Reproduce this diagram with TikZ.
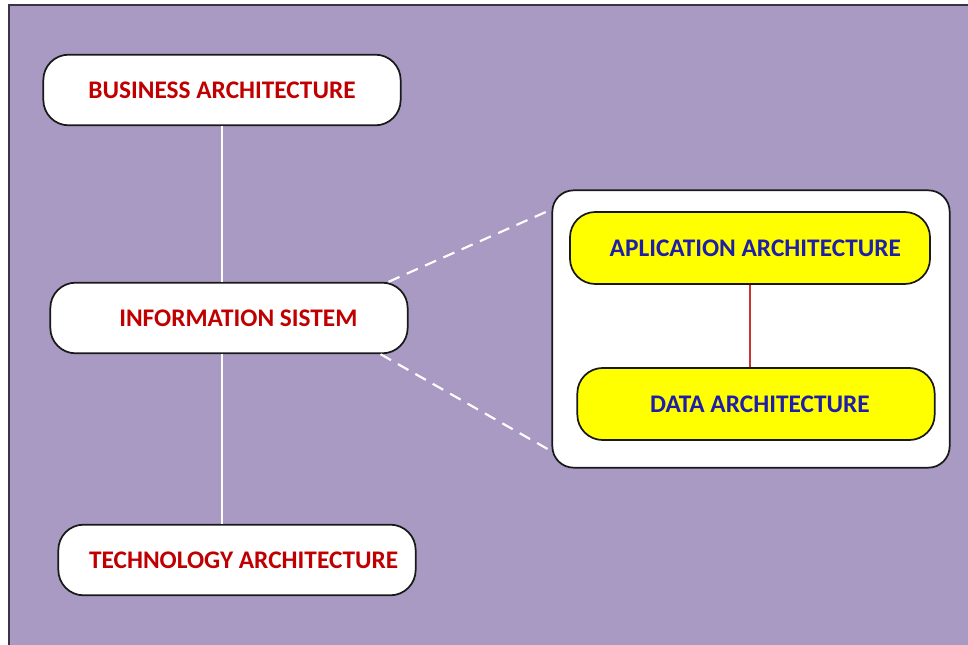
\documentclass[tikz,border=0pt]{standalone}
\usepackage{fontspec}
\setmainfont{Carlito}
\definecolor{bgcol}{RGB}{168,154,194}
\definecolor{framecol}{RGB}{60,52,70}
\definecolor{redtxt}{RGB}{192,0,0}
\definecolor{bluetxt}{RGB}{30,30,170}
\definecolor{boxyel}{RGB}{255,255,0}
\tikzset{every picture/.style={x=0.75pt,y=-0.75pt}}
\tikzset{layer/.style={draw=black!90,fill=white,rounded corners=19pt,line width=1.3pt,minimum width=268pt,minimum height=53pt,font=\bfseries\fontsize{19}{22}\selectfont,text=redtxt}}
\tikzset{sublayer/.style={layer,fill=boxyel,text=bluetxt,minimum width=270pt,minimum height=54pt}}
\tikzset{holder/.style={draw=black!90,fill=white,rounded corners=16pt,line width=1.3pt,minimum width=298pt,minimum height=208pt}}
\tikzset{link/.style={white,line width=1.2pt}}
\tikzset{zoomlink/.style={white,line width=1.6pt,dash pattern=on 9pt off 6pt}}

\begin{document}
\begin{tikzpicture}
\useasboundingbox (0,0) rectangle (968,645);
\fill [white] (0,0) rectangle (968,645);
\fill [bgcol] (9,5) rectangle (968,645);
\draw [framecol,line width=1.5pt] (9,645) -- (9,5) -- (968,5);

\node [layer] (biz) at (222,90) {BUSINESS ARCHITECTURE};
\node [layer] (info) at (229,318) {\hspace*{14pt}INFORMATION SISTEM};
\node [layer] (tech) at (237,560) {\hspace*{10pt}TECHNOLOGY ARCHITECTURE};

\node [holder] (is) at (751,329) {};
\node [sublayer] (app) at (750,248) {\hspace*{8pt}APLICATION ARCHITECTURE};
\node [sublayer,minimum width=268pt] (data) at (756,404) {\hspace*{6pt}DATA ARCHITECTURE};

\coordinate (z1) at ([xshift=-15pt]info.north east);
\coordinate (z2) at ([xshift=-21pt]info.south east);
\coordinate (z3) at ([yshift=-15pt]is.north west);
\coordinate (z4) at ([yshift=13pt]is.south west);

\draw [link] (biz.south) -- (biz.south |- info.north);
\draw [link] (biz.south |- info.south) -- (biz.south |- tech.north);
\draw [redtxt!80,line width=1pt] (app.south) -- (app.south |- data.north);
\draw [zoomlink] (z1) -- (z3);
\draw [zoomlink] (z2) -- (z4);
\end{tikzpicture}
\end{document}
